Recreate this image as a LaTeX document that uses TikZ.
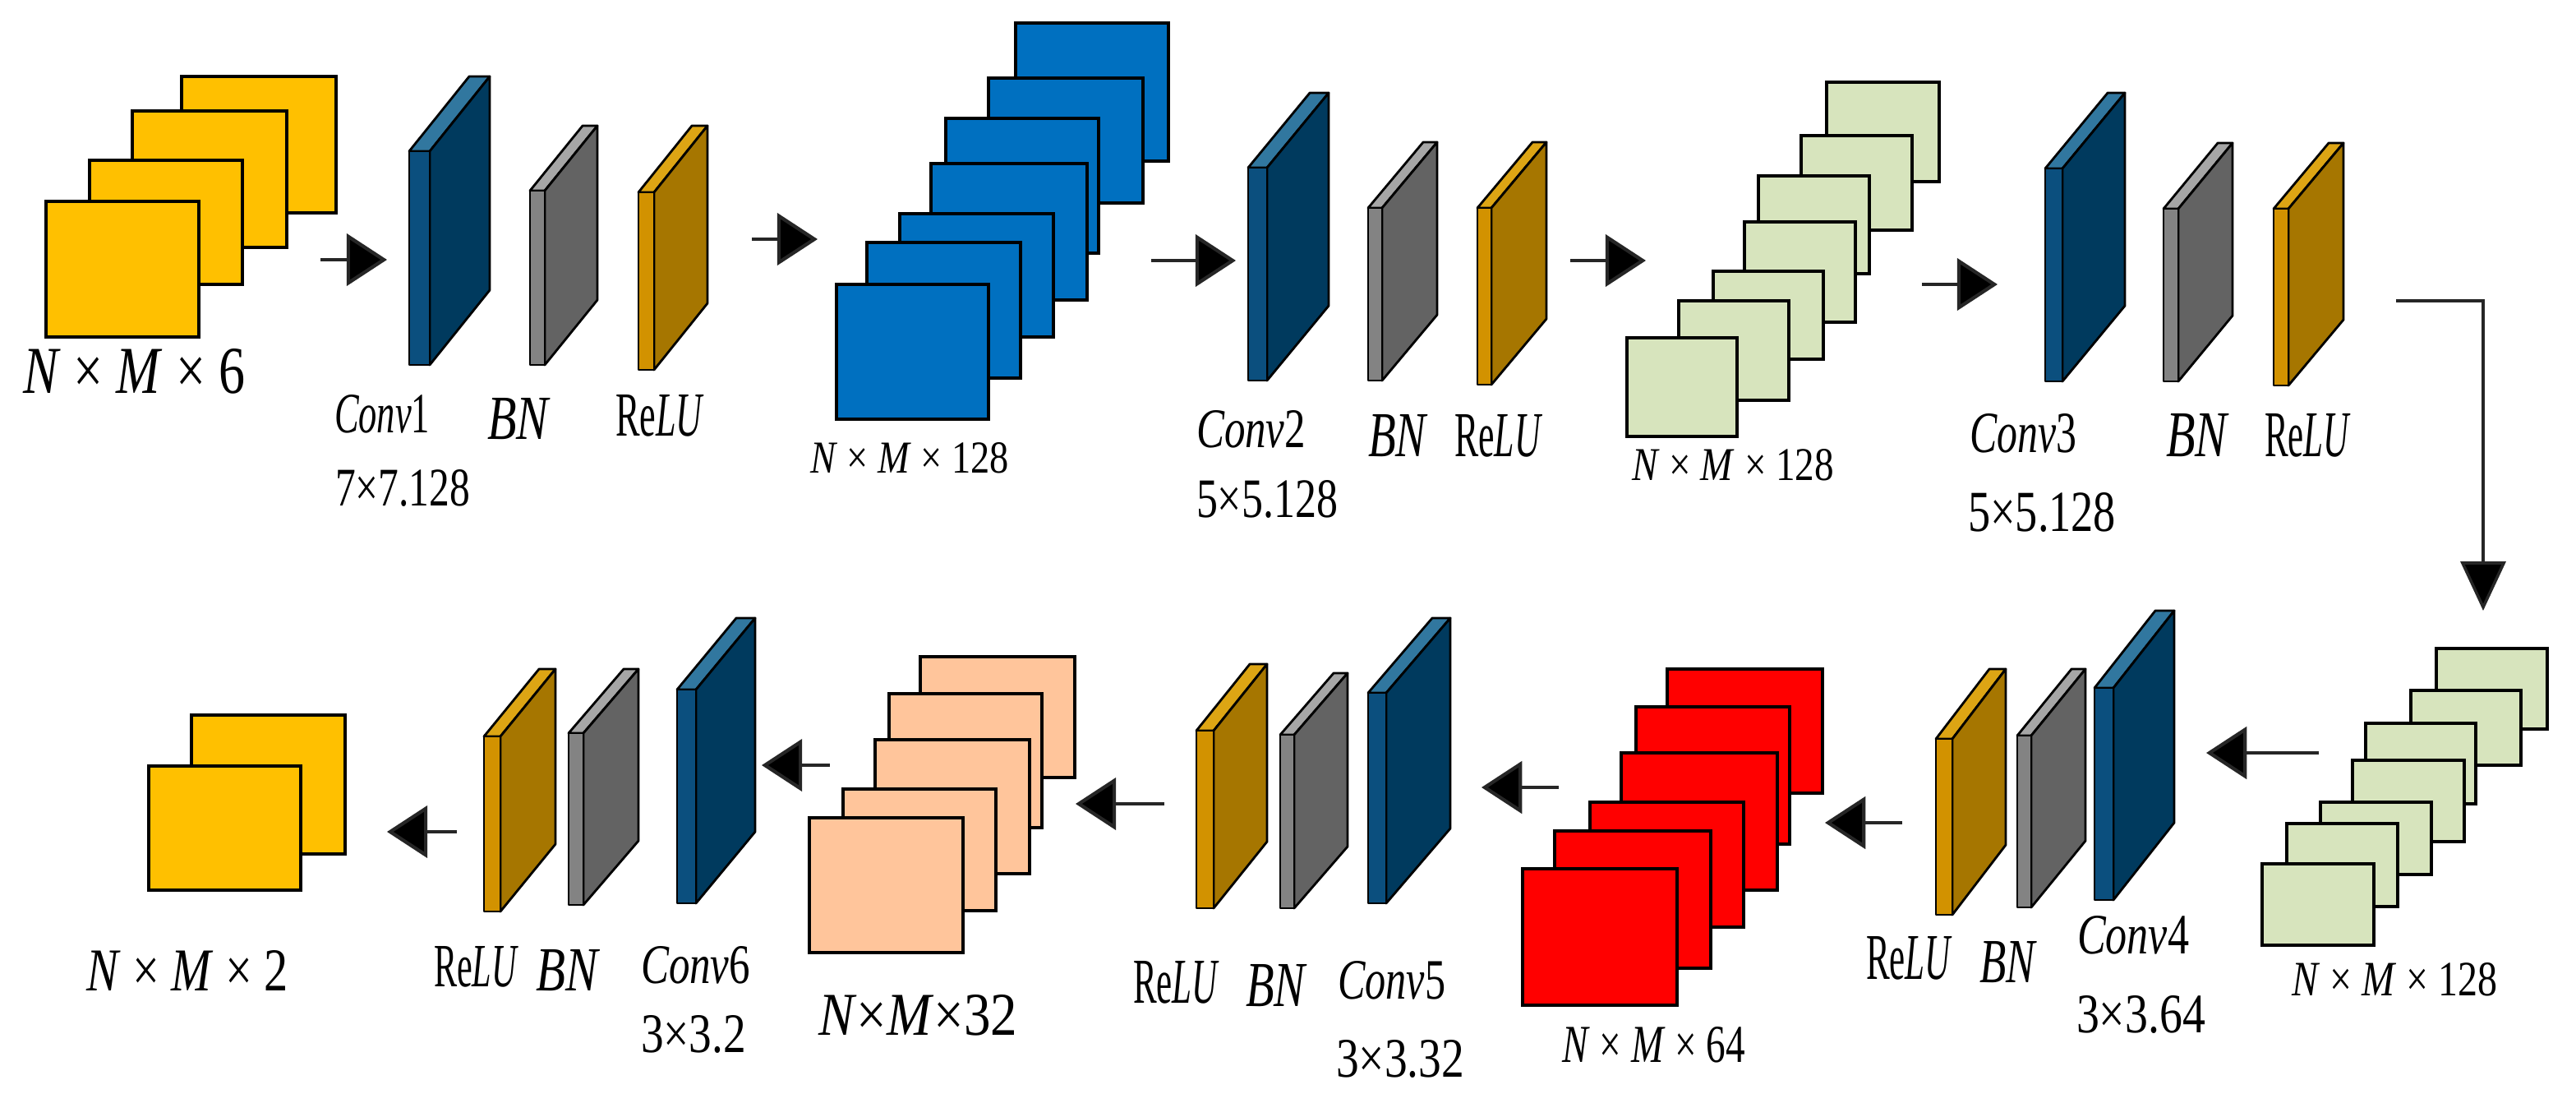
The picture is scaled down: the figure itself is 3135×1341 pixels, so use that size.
\documentclass[tikz,border=0pt]{standalone}
\usepackage{fontspec}
\setmainfont{Liberation Serif}
\usetikzlibrary{arrows.meta}
\definecolor{cYel}{HTML}{FFC000}
\definecolor{cBlue}{HTML}{0070C0}
\definecolor{cGreen}{HTML}{D7E4BD}
\definecolor{cRed}{HTML}{FF0000}
\definecolor{cPeach}{HTML}{FFC59B}
\definecolor{convF}{HTML}{0B4F7E}
\definecolor{convS}{HTML}{003A5E}
\definecolor{convT}{HTML}{31779F}
\definecolor{bnF}{HTML}{838383}
\definecolor{bnS}{HTML}{636363}
\definecolor{bnT}{HTML}{A6A6A6}
\definecolor{reluF}{HTML}{D29200}
\definecolor{reluS}{HTML}{A67600}
\definecolor{reluT}{HTML}{DDA514}
\newcommand\sheetbox[5]{\draw[sheet,fill=#1] (#2,#3) rectangle (#4,#5);}
\newcommand\slab[8]{%
  \draw[slabline,#1top] (#2,#3) -- ++(#4,0) -- ++(#6,-#7) -- ++(-#4,0) -- cycle;
  \draw[slabline,#1side] (#2+#4,#3) -- ++(#6,-#7) -- ++(0,#5) -- ++(-#6,#7) -- cycle;
  \draw[slabline,#1front] (#2,#3) rectangle ++(#4,#5);
  \coordinate (#8) at (#2+#4/2,#3+#5/2);}
\newcommand\lab[6]{\node[lbl] (#1) at (#2,#5) {\resizebox{\fpeval{((#4)-(#2))/100}cm}{\fpeval{((#5)-(#3))/100}cm}{#6}};}
\newcommand\NM[1]{\textit{N} × \textit{M} × #1}
\begin{document}
\begin{tikzpicture}[x=0.01cm,y=-0.01cm,
  sheet/.style={draw=black,line width=1.3pt},
  slabline/.style={draw=black,line width=0.8pt,line join=round},
  convtop/.style={fill=convT}, convside/.style={fill=convS}, convfront/.style={fill=convF},
  bntop/.style={fill=bnT}, bnside/.style={fill=bnS}, bnfront/.style={fill=bnF},
  relutop/.style={fill=reluT}, reluside/.style={fill=reluS}, relufront/.style={fill=reluF},
  lbl/.style={anchor=south west,inner sep=0pt,outer sep=0pt},
  arr/.style={draw=black!85,line width=1.2pt,-{Triangle[length=14pt,width=18pt,fill=black]}}]
\useasboundingbox (0,0) rectangle (3135,1341);

% ---------- input stack (yellow) ----------
\sheetbox{cYel}{221}{93}{409}{259}
\sheetbox{cYel}{161}{135}{349}{301}
\sheetbox{cYel}{109}{195}{295}{346}
\sheetbox{cYel}{56}{245}{242}{410}
\coordinate (in) at (149,327);

% ---------- block 1 ----------
\slab{conv}{498}{184}{25}{260}{73}{91}{conv1}
\slab{bn}{645}{232}{18}{212}{64}{79}{bn1}
\slab{relu}{777}{234}{19}{216}{65}{81}{relu1}

% ---------- blue stack ----------
\sheetbox{cBlue}{1236}{28}{1422}{196}
\sheetbox{cBlue}{1203}{95}{1391}{247}
\sheetbox{cBlue}{1151}{144}{1337}{308}
\sheetbox{cBlue}{1133}{199}{1323}{365}
\sheetbox{cBlue}{1095}{260}{1282}{410}
\sheetbox{cBlue}{1055}{295}{1242}{460}
\sheetbox{cBlue}{1018}{346}{1203}{510}

% ---------- block 2 ----------
\slab{conv}{1519}{204}{23}{259}{75}{91}{conv2}
\slab{bn}{1665}{253}{17}{210}{67}{80}{bn2}
\slab{relu}{1798}{253}{17}{215}{67}{80}{relu2}

% ---------- green stack (top) ----------
\sheetbox{cGreen}{2223}{100}{2360}{221}
\sheetbox{cGreen}{2192}{165}{2327}{280}
\sheetbox{cGreen}{2140}{214}{2275}{333}
\sheetbox{cGreen}{2123}{270}{2258}{392}
\sheetbox{cGreen}{2085}{330}{2219}{437}
\sheetbox{cGreen}{2043}{366}{2177}{487}
\sheetbox{cGreen}{1980}{411}{2114}{531}

% ---------- block 3 ----------
\slab{conv}{2489}{205}{21}{259}{76}{92}{conv3}
\slab{bn}{2633}{254}{18}{210}{66}{80}{bn3}
\slab{relu}{2767}{254}{18}{215}{67}{80}{relu3}

% ---------- green stack (bottom right) ----------
\sheetbox{cGreen}{2965}{789}{3100}{887}
\sheetbox{cGreen}{2934}{840}{3068}{931}
\sheetbox{cGreen}{2879}{880}{3013}{978}
\sheetbox{cGreen}{2863}{925}{2999}{1024}
\sheetbox{cGreen}{2824}{976}{2959}{1064}
\sheetbox{cGreen}{2783}{1002}{2918}{1103}
\sheetbox{cGreen}{2753}{1051}{2889}{1150}

% ---------- block 4 ----------
\slab{relu}{2356}{899}{20}{214}{65}{85}{relu4}
\slab{bn}{2455}{895}{17}{209}{66}{81}{bn4}
\slab{conv}{2549}{837}{23}{258}{74}{94}{conv4}

% ---------- red stack ----------
\sheetbox{cRed}{2029}{814}{2218}{965}
\sheetbox{cRed}{1991}{860}{2178}{1027}
\sheetbox{cRed}{1973}{916}{2163}{1083}
\sheetbox{cRed}{1935}{976}{2122}{1128}
\sheetbox{cRed}{1892}{1011}{2082}{1178}
\sheetbox{cRed}{1853}{1057}{2041}{1223}

% ---------- block 5 ----------
\slab{relu}{1456}{889}{21}{216}{65}{81}{relu5}
\slab{bn}{1558}{894}{17}{211}{65}{75}{bn5}
\slab{conv}{1665}{843}{22}{256}{78}{91}{conv5}

% ---------- peach stack ----------
\sheetbox{cPeach}{1120}{799}{1308}{946}
\sheetbox{cPeach}{1082}{844}{1268}{1007}
\sheetbox{cPeach}{1065}{900}{1253}{1063}
\sheetbox{cPeach}{1026}{960}{1212}{1108}
\sheetbox{cPeach}{985}{995}{1172}{1159}

% ---------- block 6 ----------
\slab{relu}{589}{896}{20}{213}{67}{82}{relu6}
\slab{bn}{692}{892}{18}{209}{67}{78}{bn6}
\slab{conv}{824}{839}{23}{260}{72}{87}{conv6}

% ---------- output (yellow) ----------
\sheetbox{cYel}{233}{870}{420}{1039}
\sheetbox{cYel}{181}{932}{366}{1083}

% ---------- arrows ----------
\coordinate (a1s) at (390,316);  \coordinate (a1e) at (471,316);
\coordinate (a2s) at (915,291);  \coordinate (a2e) at (995,291);
\coordinate (a3s) at (1401,317); \coordinate (a3e) at (1504,317);
\coordinate (a4s) at (1911,317); \coordinate (a4e) at (2003,317);
\coordinate (a5s) at (2339,346); \coordinate (a5e) at (2431,346);
\coordinate (a6s) at (2916,366); \coordinate (a6m) at (3022,366); \coordinate (a6e) at (3022,743);
\coordinate (a7s) at (2822,916); \coordinate (a7e) at (2685,916);
\coordinate (a8s) at (2315,1001); \coordinate (a8e) at (2221,1001);
\coordinate (a9s) at (1897,958); \coordinate (a9e) at (1803,958);
\coordinate (a10s) at (1417,978); \coordinate (a10e) at (1309,978);
\coordinate (a11s) at (1010,931); \coordinate (a11e) at (927,931);
\coordinate (a12s) at (556,1012); \coordinate (a12e) at (471,1012);
\draw[arr] (a1s) -- (a1e);
\draw[arr] (a2s) -- (a2e);
\draw[arr] (a3s) -- (a3e);
\draw[arr] (a4s) -- (a4e);
\draw[arr] (a5s) -- (a5e);
\draw[draw=black!85,line width=1pt,-{Triangle[length=17pt,width=15.6pt,fill=black]}] (a6s) -- (a6m) -- (a6e);
\draw[arr] (a7s) -- (a7e);
\draw[arr] (a8s) -- (a8e);
\draw[arr] (a9s) -- (a9e);
\draw[arr] (a10s) -- (a10e);
\draw[arr] (a11s) -- (a11e);
\draw[arr] (a12s) -- (a12e);

% ---------- labels ----------
\lab{l1}{28}{425}{298}{479}{\NM{6}}
\lab{l2}{407}{481}{523}{527}{\textit{Conv}1}
\lab{l3}{593}{485}{670}{535}{\textit{BN}}
\lab{l4}{749}{481}{857}{531}{Re\textit{LU}}
\lab{l5}{408}{572}{572}{616}{7×7.128}
\lab{l6}{986}{539}{1228}{576}{\NM{128}}
\lab{l7}{1456}{500}{1589}{545}{\textit{Conv}2}
\lab{l8}{1665}{505}{1738}{556}{\textit{BN}}
\lab{l9}{1770}{505}{1877}{556}{Re\textit{LU}}
\lab{l10}{1456}{585}{1628}{630}{5×5.128}
\lab{l11}{1986}{547}{2232}{585}{\NM{128}}
\lab{l12}{2397}{504}{2527}{551}{\textit{Conv}3}
\lab{l13}{2636}{504}{2713}{556}{\textit{BN}}
\lab{l14}{2756}{504}{2861}{556}{Re\textit{LU}}
\lab{l15}{2395}{600}{2575}{647}{5×5.128}
\lab{l16}{2789}{1172}{3039}{1212}{\NM{128}}
\lab{l17}{2271}{1140}{2376}{1192}{Re\textit{LU}}
\lab{l18}{2409}{1146}{2479}{1196}{\textit{BN}}
\lab{l19}{2528}{1115}{2664}{1161}{\textit{Conv}4}
\lab{l20}{2527}{1212}{2684}{1257}{3×3.64}
\lab{l21}{1901}{1250}{2124}{1293}{\NM{64}}
\lab{l22}{1379}{1170}{1484}{1221}{Re\textit{LU}}
\lab{l23}{1516}{1174}{1591}{1225}{\textit{BN}}
\lab{l24}{1628}{1170}{1759}{1216}{\textit{Conv}5}
\lab{l25}{1626}{1266}{1782}{1311}{3×3.32}
\lab{l26}{996}{1211}{1238}{1260}{\textit{N}×\textit{M}×32}
\lab{l27}{105}{1156}{351}{1205}{\NM{2}}
\lab{l28}{528}{1152}{631}{1201}{Re\textit{LU}}
\lab{l29}{652}{1156}{730}{1206}{\textit{BN}}
\lab{l30}{780}{1152}{913}{1197}{\textit{Conv}6}
\lab{l31}{780}{1236}{908}{1281}{3×3.2}
\end{tikzpicture}
\end{document}
